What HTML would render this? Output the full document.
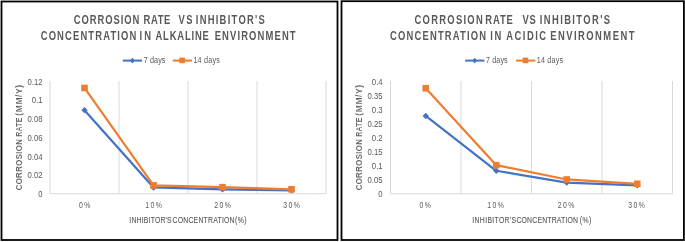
<!DOCTYPE html>
<html><head><meta charset="utf-8"><style>
html,body{margin:0;padding:0;background:#fff;width:685px;height:242px;overflow:hidden}
svg{display:block}
svg{will-change:transform}
text{font-family:"Liberation Sans",sans-serif;fill:#595959}
.t{font-size:12.4px;font-weight:bold}
.l{font-size:9px}
.k{font-size:8.9px}
.x{font-size:8.4px;letter-spacing:1.7px}
.ax{font-size:9.2px;stroke:#595959;stroke-width:0.12px}
.ay{font-size:8.2px;font-weight:bold;stroke:#fff;stroke-width:0.1px}
</style></head><body>
<svg width="685" height="242" viewBox="0 0 685 242">
<rect x="0" y="0" width="685" height="242" fill="#fff"/>
<rect x="1.5" y="1.5" width="336" height="238.5" fill="none" stroke="#000" stroke-width="1.8"/>
<rect x="341.5" y="1.2" width="342.4" height="238.8" fill="none" stroke="#000" stroke-width="1.8"/>
<text class="t" transform="translate(73.73 23.80) scale(0.76 1)" textLength="86.36" lengthAdjust="spacing">CORROSION</text>
<text class="t" transform="translate(143.50 23.80) scale(0.76 1)" textLength="35.31" lengthAdjust="spacing">RATE</text>
<text class="t" transform="translate(178.38 23.80) scale(0.76 1)" textLength="18.72" lengthAdjust="spacing">VS</text>
<text class="t" transform="translate(195.78 23.80) scale(0.76 1)" textLength="90.82" lengthAdjust="spacing">INHIBITOR'S</text>
<text class="t" transform="translate(40.73 39.60) scale(0.76 1)" textLength="125.83" lengthAdjust="spacing">CONCENTRATION</text>
<text class="t" transform="translate(139.53 39.60) scale(0.76 1)" textLength="15.13" lengthAdjust="spacing">IN</text>
<text class="t" transform="translate(155.45 39.60) scale(0.76 1)" textLength="70.33" lengthAdjust="spacing">ALKALINE</text>
<text class="t" transform="translate(214.65 39.60) scale(0.76 1)" textLength="106.55" lengthAdjust="spacing">ENVIRONMENT</text>
<line x1="122.8" y1="60.6" x2="142.1" y2="60.6" stroke="#4472C4" stroke-width="2"/>
<path d="M132.4 57.7 L134.8 60.6 L132.4 63.5 L130.0 60.6Z" fill="#4472C4"/>
<text class="l" transform="translate(143.80 62.60) scale(0.8 1)" textLength="27.00" lengthAdjust="spacing">7 days</text>
<line x1="172.8" y1="60.6" x2="192.1" y2="60.6" stroke="#ED7D31" stroke-width="2"/>
<rect x="179.29999999999998" y="57.6" width="5.6" height="5.6" fill="#ED7D31"/>
<text class="l" transform="translate(193.40 62.60) scale(0.8 1)" textLength="33.00" lengthAdjust="spacing">14 days</text>
<line x1="50.00" y1="81.10000000000001" x2="50.00" y2="193.8" stroke="#D9D9D9" stroke-width="1"/>
<line x1="119.00" y1="81.10000000000001" x2="119.00" y2="193.8" stroke="#D9D9D9" stroke-width="1"/>
<line x1="188.00" y1="81.10000000000001" x2="188.00" y2="193.8" stroke="#D9D9D9" stroke-width="1"/>
<line x1="257.00" y1="81.10000000000001" x2="257.00" y2="193.8" stroke="#D9D9D9" stroke-width="1"/>
<line x1="326.00" y1="81.10000000000001" x2="326.00" y2="193.8" stroke="#D9D9D9" stroke-width="1"/>
<line x1="50" y1="193.8" x2="326" y2="193.8" stroke="#D9D9D9" stroke-width="1"/>
<text class="k" transform="translate(42.60 197.10) scale(0.87 1)" text-anchor="end">0</text>
<text class="k" transform="translate(42.60 178.37) scale(0.87 1)" text-anchor="end">0.02</text>
<text class="k" transform="translate(42.60 159.63) scale(0.87 1)" text-anchor="end">0.04</text>
<text class="k" transform="translate(42.60 140.90) scale(0.87 1)" text-anchor="end">0.06</text>
<text class="k" transform="translate(42.60 122.17) scale(0.87 1)" text-anchor="end">0.08</text>
<text class="k" transform="translate(42.60 103.43) scale(0.87 1)" text-anchor="end">0.1</text>
<text class="k" transform="translate(42.60 84.70) scale(0.87 1)" text-anchor="end">0.12</text>
<text class="x" transform="translate(85.30 208.20) scale(0.82 1)" text-anchor="middle">0%</text>
<text class="x" transform="translate(154.30 208.20) scale(0.82 1)" text-anchor="middle">10%</text>
<text class="x" transform="translate(223.30 208.20) scale(0.82 1)" text-anchor="middle">20%</text>
<text class="x" transform="translate(292.30 208.20) scale(0.82 1)" text-anchor="middle">30%</text>
<text class="ax" transform="translate(129.35 223.00) scale(0.75 1)" textLength="56.50" lengthAdjust="spacing">INHIBITOR'S</text>
<text class="ax" transform="translate(172.53 223.00) scale(0.75 1)" textLength="82.68" lengthAdjust="spacing">CONCENTRATION</text>
<text class="ax" transform="translate(234.97 223.00) scale(0.75 1)" textLength="15.44" lengthAdjust="spacing">(%)</text>
<text class="ay" transform="translate(22.20 190.36) rotate(-90) scale(0.95 1)" textLength="53.94" lengthAdjust="spacing">CORROSION</text>
<text class="ay" transform="translate(22.20 136.84) rotate(-90) scale(0.85 1)" textLength="22.63" lengthAdjust="spacing">RATE</text>
<text class="ay" transform="translate(22.20 115.70) rotate(-90) scale(1.05 1)" textLength="29.40" lengthAdjust="spacing">(MM/Y)</text>
<polyline points="84.50,110.16 153.50,187.43 222.50,189.40 291.50,190.33" fill="none" stroke="#4472C4" stroke-width="2.2" stroke-linejoin="round"/>
<path d="M84.50 106.96 L87.70 110.16 L84.50 113.36 L81.30 110.16Z" fill="#4472C4"/>
<path d="M153.50 184.23 L156.70 187.43 L153.50 190.63 L150.30 187.43Z" fill="#4472C4"/>
<path d="M222.50 186.20 L225.70 189.40 L222.50 192.60 L219.30 189.40Z" fill="#4472C4"/>
<path d="M291.50 187.13 L294.70 190.33 L291.50 193.53 L288.30 190.33Z" fill="#4472C4"/>
<polyline points="84.50,87.96 153.50,185.37 222.50,187.15 291.50,189.30" fill="none" stroke="#ED7D31" stroke-width="2.2" stroke-linejoin="round"/>
<rect x="81.20" y="84.66" width="6.6" height="6.6" fill="#ED7D31"/>
<rect x="150.20" y="182.07" width="6.6" height="6.6" fill="#ED7D31"/>
<rect x="219.20" y="183.85" width="6.6" height="6.6" fill="#ED7D31"/>
<rect x="288.20" y="186.00" width="6.6" height="6.6" fill="#ED7D31"/>
<text class="t" transform="translate(414.53 23.80) scale(0.76 1)" textLength="89.69" lengthAdjust="spacing">CORROSION</text>
<text class="t" transform="translate(485.15 23.80) scale(0.76 1)" textLength="36.50" lengthAdjust="spacing">RATE</text>
<text class="t" transform="translate(522.51 23.80) scale(0.76 1)" textLength="17.49" lengthAdjust="spacing">VS</text>
<text class="t" transform="translate(539.78 23.80) scale(0.76 1)" textLength="92.60" lengthAdjust="spacing">INHIBITOR'S</text>
<text class="t" transform="translate(390.00 39.60) scale(0.76 1)" textLength="126.52" lengthAdjust="spacing">CONCENTRATION</text>
<text class="t" transform="translate(490.35 39.60) scale(0.76 1)" textLength="14.51" lengthAdjust="spacing">IN</text>
<text class="t" transform="translate(506.22 39.60) scale(0.76 1)" textLength="52.51" lengthAdjust="spacing">ACIDIC</text>
<text class="t" transform="translate(550.15 39.60) scale(0.76 1)" textLength="110.89" lengthAdjust="spacing">ENVIRONMENT</text>
<line x1="465.1" y1="60.6" x2="484.4" y2="60.6" stroke="#4472C4" stroke-width="2"/>
<path d="M474.70000000000005 57.7 L477.1 60.6 L474.70000000000005 63.5 L472.30000000000007 60.6Z" fill="#4472C4"/>
<text class="l" transform="translate(486.10 62.60) scale(0.8 1)" textLength="27.00" lengthAdjust="spacing">7 days</text>
<line x1="516.1" y1="60.6" x2="535.4" y2="60.6" stroke="#ED7D31" stroke-width="2"/>
<rect x="522.6" y="57.6" width="5.6" height="5.6" fill="#ED7D31"/>
<text class="l" transform="translate(536.70 62.60) scale(0.8 1)" textLength="33.00" lengthAdjust="spacing">14 days</text>
<line x1="390.50" y1="81.10000000000001" x2="390.50" y2="193.8" stroke="#D9D9D9" stroke-width="1"/>
<line x1="461.00" y1="81.10000000000001" x2="461.00" y2="193.8" stroke="#D9D9D9" stroke-width="1"/>
<line x1="531.50" y1="81.10000000000001" x2="531.50" y2="193.8" stroke="#D9D9D9" stroke-width="1"/>
<line x1="602.00" y1="81.10000000000001" x2="602.00" y2="193.8" stroke="#D9D9D9" stroke-width="1"/>
<line x1="672.50" y1="81.10000000000001" x2="672.50" y2="193.8" stroke="#D9D9D9" stroke-width="1"/>
<line x1="390.5" y1="193.8" x2="672.5" y2="193.8" stroke="#D9D9D9" stroke-width="1"/>
<text class="k" transform="translate(382.60 197.10) scale(0.87 1)" text-anchor="end">0</text>
<text class="k" transform="translate(382.60 183.05) scale(0.87 1)" text-anchor="end">0.05</text>
<text class="k" transform="translate(382.60 169.00) scale(0.87 1)" text-anchor="end">0.1</text>
<text class="k" transform="translate(382.60 154.95) scale(0.87 1)" text-anchor="end">0.15</text>
<text class="k" transform="translate(382.60 140.90) scale(0.87 1)" text-anchor="end">0.2</text>
<text class="k" transform="translate(382.60 126.85) scale(0.87 1)" text-anchor="end">0.25</text>
<text class="k" transform="translate(382.60 112.80) scale(0.87 1)" text-anchor="end">0.3</text>
<text class="k" transform="translate(382.60 98.75) scale(0.87 1)" text-anchor="end">0.35</text>
<text class="k" transform="translate(382.60 84.70) scale(0.87 1)" text-anchor="end">0.4</text>
<text class="x" transform="translate(425.85 208.20) scale(0.82 1)" text-anchor="middle">0%</text>
<text class="x" transform="translate(496.35 208.20) scale(0.82 1)" text-anchor="middle">10%</text>
<text class="x" transform="translate(566.85 208.20) scale(0.82 1)" text-anchor="middle">20%</text>
<text class="x" transform="translate(637.35 208.20) scale(0.82 1)" text-anchor="middle">30%</text>
<text class="ax" transform="translate(472.35 223.00) scale(0.75 1)" textLength="58.38" lengthAdjust="spacing">INHIBITOR'S</text>
<text class="ax" transform="translate(516.45 223.00) scale(0.75 1)" textLength="82.05" lengthAdjust="spacing">CONCENTRATION</text>
<text class="ax" transform="translate(579.75 223.00) scale(0.75 1)" textLength="15.30" lengthAdjust="spacing">(%)</text>
<text class="ay" transform="translate(362.20 190.36) rotate(-90) scale(0.95 1)" textLength="53.94" lengthAdjust="spacing">CORROSION</text>
<text class="ay" transform="translate(362.20 136.84) rotate(-90) scale(0.85 1)" textLength="22.63" lengthAdjust="spacing">RATE</text>
<text class="ay" transform="translate(362.20 115.70) rotate(-90) scale(1.05 1)" textLength="29.40" lengthAdjust="spacing">(MM/Y)</text>
<polyline points="425.75,115.96 496.25,170.76 566.75,182.56 637.25,185.37" fill="none" stroke="#4472C4" stroke-width="2.2" stroke-linejoin="round"/>
<path d="M425.75 112.76 L428.95 115.96 L425.75 119.16 L422.55 115.96Z" fill="#4472C4"/>
<path d="M496.25 167.56 L499.45 170.76 L496.25 173.96 L493.05 170.76Z" fill="#4472C4"/>
<path d="M566.75 179.36 L569.95 182.56 L566.75 185.76 L563.55 182.56Z" fill="#4472C4"/>
<path d="M637.25 182.17 L640.45 185.37 L637.25 188.57 L634.05 185.37Z" fill="#4472C4"/>
<polyline points="425.75,88.28 496.25,165.14 566.75,179.47 637.25,183.82" fill="none" stroke="#ED7D31" stroke-width="2.2" stroke-linejoin="round"/>
<rect x="422.45" y="84.98" width="6.6" height="6.6" fill="#ED7D31"/>
<rect x="492.95" y="161.84" width="6.6" height="6.6" fill="#ED7D31"/>
<rect x="563.45" y="176.17" width="6.6" height="6.6" fill="#ED7D31"/>
<rect x="633.95" y="180.52" width="6.6" height="6.6" fill="#ED7D31"/>
</svg>
</body></html>
